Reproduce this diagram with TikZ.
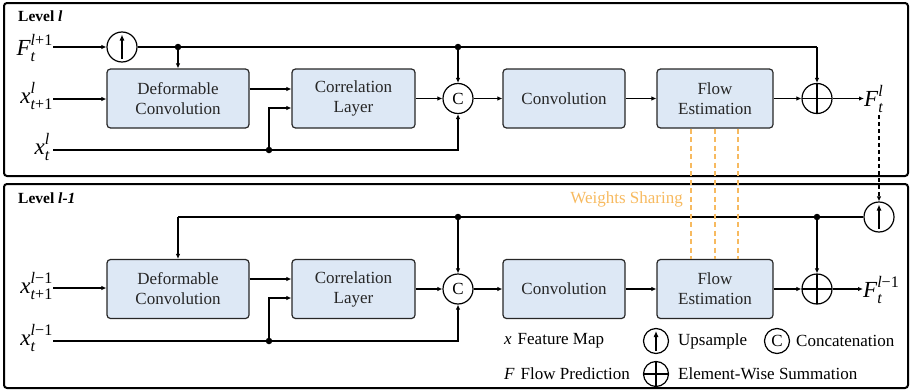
\documentclass[tikz,border=0pt]{standalone}
\usepackage{amsmath}
\usepackage{fontspec}
\setmainfont{Liberation Serif}
\usetikzlibrary{arrows.meta,calc}
\definecolor{boxblue}{RGB}{221,232,245}
\definecolor{wsorange}{RGB}{247,186,96}
\newcommand{\ti}[1]{\text{\itshape #1}}
\newcommand{\boxfont}{\rmfamily\fontsize{17}{20}\selectfont}
\newcommand{\lblfont}{\rmfamily\fontsize{23}{26}\selectfont}
\begin{document}
\begin{tikzpicture}[x=1pt,y=-1pt,
  blk/.style={draw=black!85, fill=boxblue, rounded corners=3.5pt, line width=1.2pt,
    minimum height=59pt, align=center, font=\boxfont, text=black!85, inner sep=0pt},
  op/.style={circle, draw, line width=1.2pt, minimum size=30pt, inner sep=0pt},
  lop/.style={circle, draw, line width=1.2pt, minimum size=25pt, inner sep=0pt},
  upsym/.style={path picture={\draw[line width=1.1pt,-{Latex[length=6pt,width=5pt]}]
      ([yshift=3pt]path picture bounding box.south) -- ([yshift=-2.5pt]path picture bounding box.north);}},
  plussym/.style={path picture={\draw[line width=1.2pt]
      (path picture bounding box.south) -- (path picture bounding box.north)
      (path picture bounding box.west) -- (path picture bounding box.east);}},
  conn/.style={line width=1.3pt, -{Latex[length=5pt,width=4.5pt]}},
  ln/.style={line width=1.3pt},
  dot/.style={circle, fill, inner sep=0pt, minimum size=6.5pt},
  lbl/.style={font=\lblfont, inner sep=0pt, anchor=base east},
  panel/.style={draw, line width=2pt, rounded corners=3pt},
  lev/.style={font=\rmfamily\fontsize{15.5}{18}\selectfont\bfseries, anchor=west, inner sep=0pt},
  txt/.style={font=\boxfont, anchor=west, inner sep=0pt},
  ws/.style={draw=wsorange, line width=1.2pt, dash pattern=on 5pt off 3.5pt}
]
\useasboundingbox (0,0) rectangle (914,391);
% panels
\draw[panel] (4,3) rectangle (908,176);
\draw[panel] (4,184) rectangle (908,388);
\node[lev] (lv1) at (18,16) {Level \textit{l}};
\node[lev] (lv2) at (18,198) {Level \textit{l-1}};

% ================= top level =================
\node[lbl] (Fin) at (53,55) {$\ti{F}_{\ti{t}}^{\ti{l}\text{+1}}$};
\node[lbl] (xa) at (53,103) {$\ti{x}_{\ti{t}\text{+1}}^{\ti{l}}$};
\node[lbl] (xb) at (50,154) {$\ti{x}_{\ti{t}}^{\ti{l}}$};

\node[op, upsym] (up1) at (122,47) {};
\node[blk, minimum width=142pt] (dc1) at (178,98.5) {Deformable\\Convolution};
\node[blk, minimum width=123pt] (cl1) at (353.5,98.5) {Correlation\\Layer};
\node[op, font=\boxfont] (cc1) at (458,98.5) {C};
\node[blk, minimum width=122pt] (cv1) at (564,98.5) {Convolution};
\node[blk, minimum width=116pt] (fe1) at (715,98.5) {Flow\\Estimation};
\node[op, plussym] (sm1) at (817,98.5) {};
\node[lbl, anchor=base west] (Fout) at (864,106) {$\ti{F}_{\ti{t}}^{\ti{l}}$};

\node[dot] (d1) at (178,47) {};
\node[dot] (d2) at (458,47) {};
\node[dot] (d3) at (269,150) {};
\coordinate (c1) at (817,47);

\draw[conn] (Fin.east |- up1.west) -- (up1.west);
\draw[ln] (up1.east) -- (d1) -- (d2) -- (c1);
\draw[conn] (c1) -- (sm1.north);
\draw[conn] (d1) -- (dc1.north);
\draw[conn] (d2) -- (cc1.north);
\draw[conn] (xa.east |- 0,99) -- (dc1.west |- 0,99);
\draw[ln] (xb.east |- d3) ++(3,0) -- (d3);
\draw[conn] (d3) -- (cc1.south |- d3) -- (cc1.south);
\draw[conn] (d3) |- (cl1.west |- 0,108);
\draw[conn] (dc1.east |- 0,89) -- (cl1.west |- 0,89);
\draw[conn] (cl1.east) -- (cc1.west);
\draw[conn] (cc1.east) -- (cv1.west);
\draw[conn] (cv1.east) -- (fe1.west);
\draw[conn] (fe1.east) -- (sm1.west);
\draw[conn] (sm1.east) -- (Fout.west |- sm1.east);

% ================= bottom level =================
\node[lbl] (xc) at (53,293) {$\ti{x}_{\ti{t}\text{+1}}^{\ti{l}\text{−1}}$};
\node[lbl] (xd) at (53,345) {$\ti{x}_{\ti{t}}^{\ti{l}\text{−1}}$};

\node[op, upsym] (up2) at (879,217) {};
\node[blk, minimum width=142pt] (dc2) at (178,289) {Deformable\\Convolution};
\node[blk, minimum width=123pt] (cl2) at (353.5,289) {Correlation\\Layer};
\node[op, font=\boxfont] (cc2) at (458,289) {C};
\node[blk, minimum width=122pt] (cv2) at (564,289) {Convolution};
\node[blk, minimum width=116pt] (fe2) at (715,289) {Flow\\Estimation};
\node[op, plussym] (sm2) at (817,289) {};
\node[lbl, anchor=base west] (Fout2) at (863,297) {$\ti{F}_{\ti{t}}^{\ti{l}\text{−1}}$};

\node[dot] (d4) at (817,217) {};
\node[dot] (d5) at (458,217) {};
\node[dot] (d6) at (269,341) {};
\coordinate (c2) at (178,217);

\draw[ln] (up2.west) -- (d4) -- (d5) -- (c2);
\draw[conn] (c2) -- (dc2.north);
\draw[conn] (d4) -- (sm2.north);
\draw[conn] (d5) -- (cc2.north);
\draw[conn] (xc.east |- 0,288) -- (dc2.west |- 0,288);
\draw[ln] (xd.east |- d6) -- (d6);
\draw[conn] (d6) -- (cc2.south |- d6) -- (cc2.south);
\draw[conn] (d6) |- (cl2.west |- 0,298);
\draw[conn] (dc2.east |- 0,279) -- (cl2.west |- 0,279);
\draw[conn] (cl2.east) -- (cc2.west);
\draw[conn] (cc2.east) -- (cv2.west);
\draw[conn] (cv2.east) -- (fe2.west);
\draw[conn] (fe2.east) -- (sm2.west);
\draw[conn] (sm2.east) -- (Fout2.west |- sm2.east);

% level link
\draw[line width=1.2pt, dash pattern=on 4pt off 3pt, -{Latex[length=5pt,width=4.5pt]}]
  (879,115) -- (up2.north);

% weights sharing
\draw[ws] (fe1.south -| 691,0) -- (fe2.north -| 691,0);
\draw[ws] (fe1.south -| 715,0) -- (fe2.north -| 715,0);
\draw[ws] (fe1.south -| 738,0) -- (fe2.north -| 738,0);
\node[font=\boxfont, text=wsorange, anchor=east, inner sep=0pt] (wst) at (683,199) {Weights Sharing};

% legend
\node[txt] (lx) at (504,341) {\textit{x}\hspace{6pt}Feature Map};
\node[txt] (lf) at (504,374) {\textit{F}\hspace{6pt}Flow Prediction};
\node[lop, upsym] (lup) at (656,341) {};
\node[txt] (lupt) at (678,341) {Upsample};
\node[lop, font=\boxfont] (lcc) at (777,341) {C};
\node[txt] (lcct) at (796,341) {Concatenation};
\node[lop, plussym] (lsm) at (656,374) {};
\node[txt] (lsmt) at (678,374) {Element-Wise Summation};
\end{tikzpicture}
\end{document}
